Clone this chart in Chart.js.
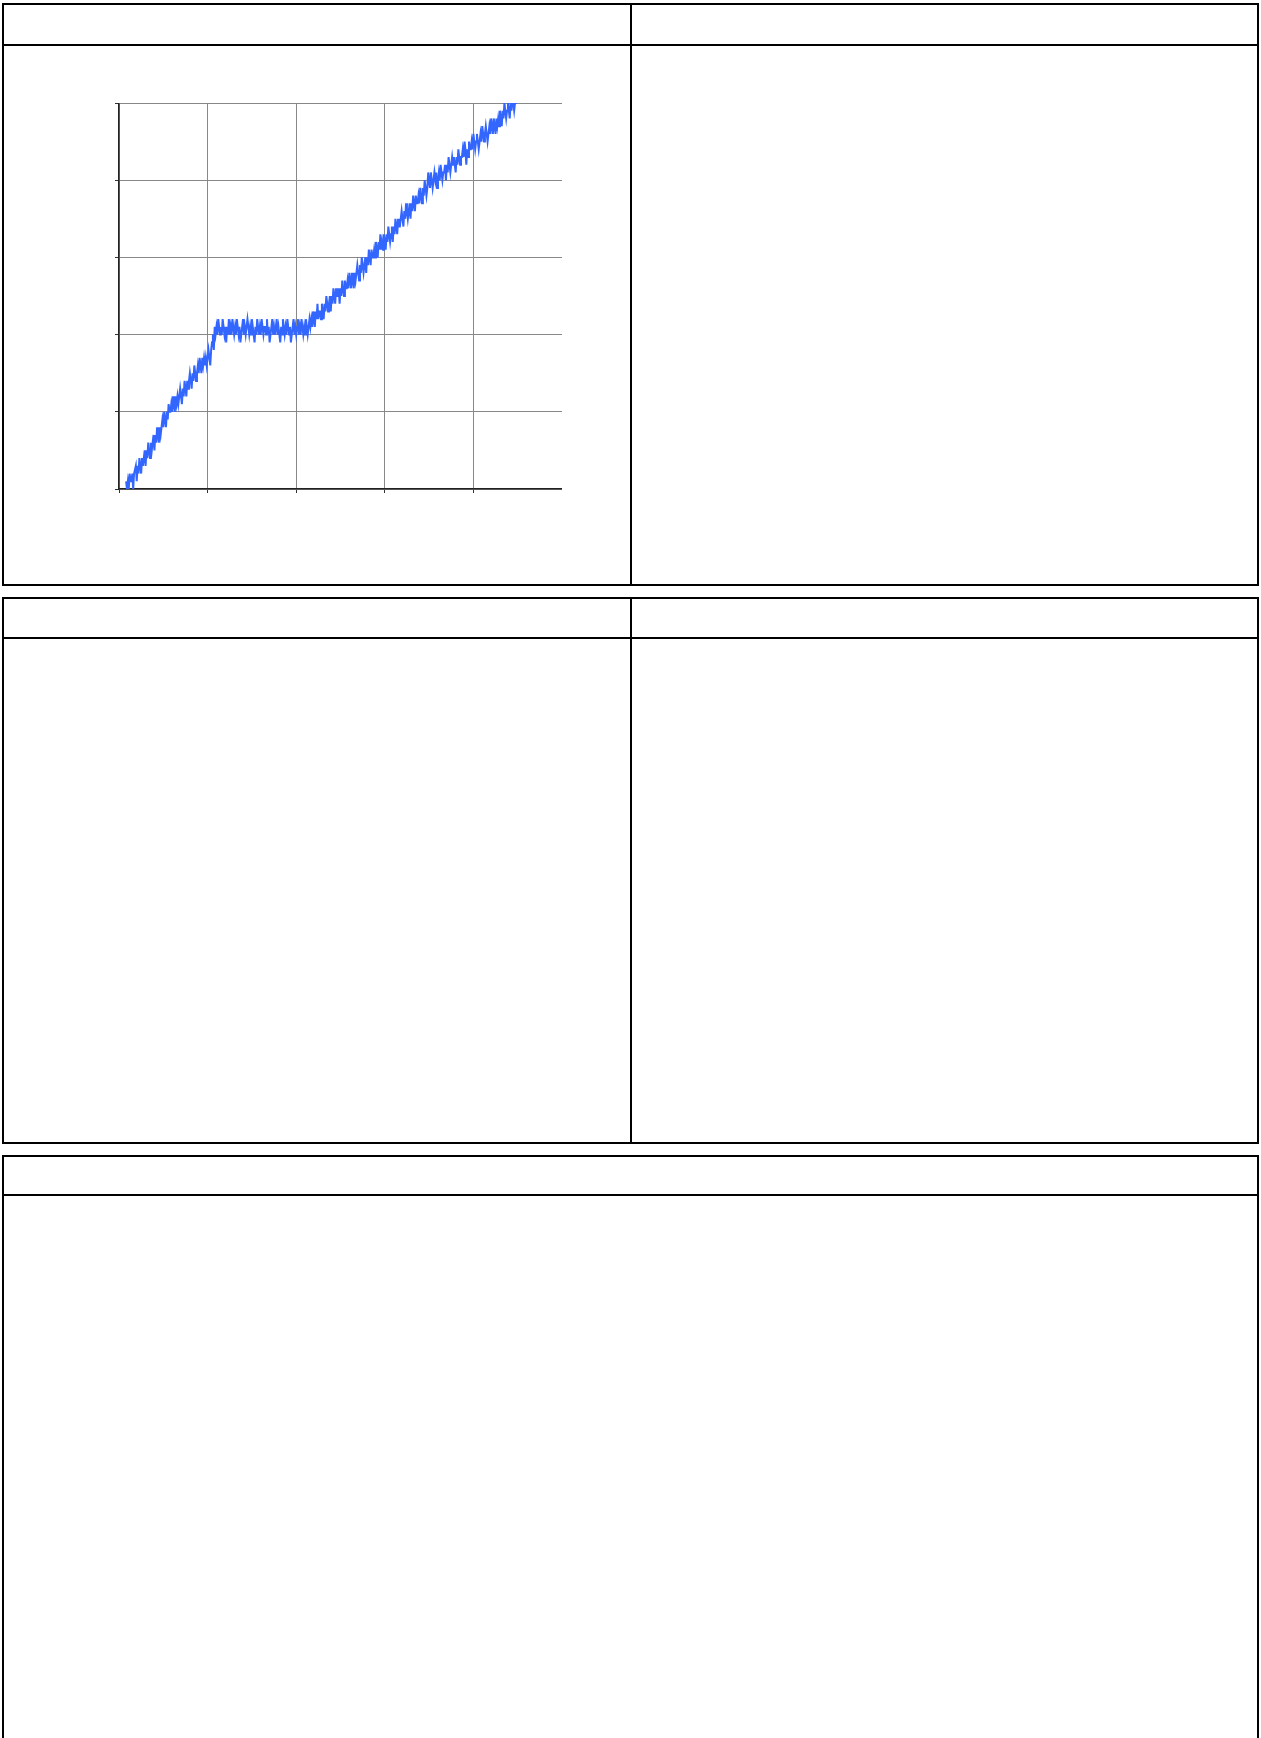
<!DOCTYPE html>
<html>
<head>
<meta charset="utf-8">
<script src="https://cdn.jsdelivr.net/npm/chart.js@4/dist/chart.umd.min.js"></script>
<style>
  html, body { margin: 0; padding: 0; background: #fff; }
  body { width: 1261px; height: 1738px; position: relative; overflow: hidden; font-family: "DejaVu Sans", sans-serif; }
  .panel { position: absolute; box-sizing: border-box; border: 2px solid #000; }
  .hline { position: absolute; left: 0; right: 0; height: 2px; background: #000; }
  .vline { position: absolute; top: 0; bottom: 0; width: 2px; background: #000; }
  .chartBox { position: absolute; left: 115px; top: 103px; width: 447px; height: 390px; }
</style>
</head>
<body>
  <div class="panel" style="left:2px; top:3px; width:1257px; height:583px;">
    <div class="hline" style="top:39px;"></div>
    <div class="vline" style="left:626px;"></div>
  </div>
  <div class="panel" style="left:2px; top:597px; width:1257px; height:547px;">
    <div class="hline" style="top:38px;"></div>
    <div class="vline" style="left:626px;"></div>
  </div>
  <div class="panel" style="left:2px; top:1155px; width:1257px; height:620px;">
    <div class="hline" style="top:37px;"></div>
  </div>

  <div class="chartBox"><canvas id="signalChart"></canvas></div>

<script>
// sample timing of the trace
const sampleStart = 8;
const sampleStep = 1;

// first ramp, x = 8..104
const rampUp = [
  1, 0, 1, 0, 2, 1, 1, 2, 0, 2,
  2, 3, 1, 3, 2, 4, 3, 2, 4, 3,
  4, 5, 3, 5, 4, 6, 5, 4, 6, 5,
  6, 7, 5, 7, 6, 8, 7, 6, 8, 7,
  8, 9, 8, 10, 9, 8, 10, 9, 11, 10,
  10, 11, 10, 12, 11, 10, 12, 11, 12, 11,
  12, 13, 12, 11, 13, 12, 14, 13, 12, 14,
  13, 14, 15, 14, 13, 15, 14, 16, 15, 14,
  15, 16, 15, 17, 16, 15, 17, 16, 17, 16,
  17, 16, 17, 18, 17, 16, 18
];
// flat part, x = 105..216
const plateau = [
  19, 20, 18, 21, 20, 21, 20, 22, 21, 20,
  21, 20, 22, 21, 20, 21, 19, 21, 20, 22,
  20, 21, 20, 22, 21, 20, 21, 20, 22, 21,
  20, 21, 19, 20, 21, 22, 20, 21, 20, 21,
  22, 21, 20, 21, 20, 22, 21, 20, 19, 21,
  20, 22, 21, 20, 21, 20, 22, 21, 20, 21,
  21, 20, 22, 20, 21, 19, 20, 21, 22, 20,
  21, 20, 21, 22, 20, 21, 20, 19, 21, 20,
  22, 21, 20, 21, 20, 22, 21, 20, 21, 19,
  20, 21, 22, 20, 21, 20, 21, 22, 20, 21,
  20, 22, 21, 20, 21, 20, 22, 21, 20, 21,
  22, 21
];
// second ramp, x = 217..450
const rampTwo = [
  22, 21, 23, 22, 21, 23, 22, 24, 22, 23,
  23, 22, 24, 23, 22, 24, 23, 25, 24, 23,
  24, 25, 23, 25, 24, 26, 25, 24, 26, 25,
  25, 26, 24, 26, 25, 27, 26, 25, 27, 26,
  26, 27, 26, 28, 27, 26, 28, 27, 26, 28,
  27, 28, 29, 28, 27, 29, 28, 30, 29, 28,
  29, 30, 28, 30, 29, 31, 30, 29, 31, 30,
  30, 31, 30, 32, 31, 30, 32, 31, 33, 31,
  32, 31, 33, 32, 31, 33, 32, 34, 33, 32,
  33, 34, 32, 34, 33, 35, 34, 33, 35, 34,
  34, 35, 36, 35, 34, 36, 35, 37, 36, 35,
  36, 37, 35, 37, 36, 38, 37, 36, 38, 37,
  37, 38, 37, 39, 38, 37, 39, 38, 40, 39,
  38, 39, 41, 40, 39, 41, 40, 39, 40, 41,
  40, 41, 39, 40, 41, 40, 42, 41, 40, 41,
  41, 42, 40, 42, 41, 43, 42, 41, 42, 43,
  42, 43, 42, 41, 43, 42, 44, 43, 42, 43,
  43, 44, 43, 45, 44, 42, 44, 43, 45, 44,
  44, 45, 44, 46, 45, 44, 45, 46, 45, 44,
  45, 46, 45, 47, 46, 45, 46, 47, 46, 45,
  46, 47, 46, 48, 47, 46, 48, 47, 46, 48,
  47, 48, 47, 49, 48, 47, 49, 48, 50, 49,
  48, 49, 50, 49, 48, 50, 49, 51, 50, 49,
  50, 51, 50, 52
];

const xTicks = [0, 100, 200, 300, 400, 500];
const yTicks = [0, 10, 20, 30, 40, 50];

const readings = [...rampUp, ...plateau, ...rampTwo];
const points = readings.map((v, i) => ({ x: sampleStart + i * sampleStep, y: v }));

const ctx = document.getElementById("signalChart");
new Chart(ctx, {
  type: "line",
  data: {
    datasets: [{
      label: "signal",
      data: points,
      borderColor: "#3366ff",
      borderWidth: 2,
      pointRadius: 0,
      tension: 0,
      fill: false
    }]
  },
  options: {
    responsive: true,
    maintainAspectRatio: false,
    animation: false,
    layout: { padding: 0 },
    plugins: { legend: { display: false }, tooltip: { enabled: false } },
    scales: {
      x: {
        type: "linear",
        min: xTicks[0],
        max: xTicks[xTicks.length - 1],
        afterBuildTicks: (s) => { s.ticks = xTicks.map(v => ({ value: v })); },
        ticks: { display: false },
        grid: { color: "#888", lineWidth: 1, tickLength: 4, tickColor: "#333" },
        border: { color: "#222", width: 1.5 }
      },
      y: {
        min: yTicks[0],
        max: yTicks[yTicks.length - 1],
        afterBuildTicks: (s) => { s.ticks = yTicks.map(v => ({ value: v })); },
        ticks: { display: false },
        grid: { color: "#888", lineWidth: 1, tickLength: 4, tickColor: "#333" },
        border: { color: "#222", width: 1.5 }
      }
    }
  }
});
</script>
</body>
</html>
